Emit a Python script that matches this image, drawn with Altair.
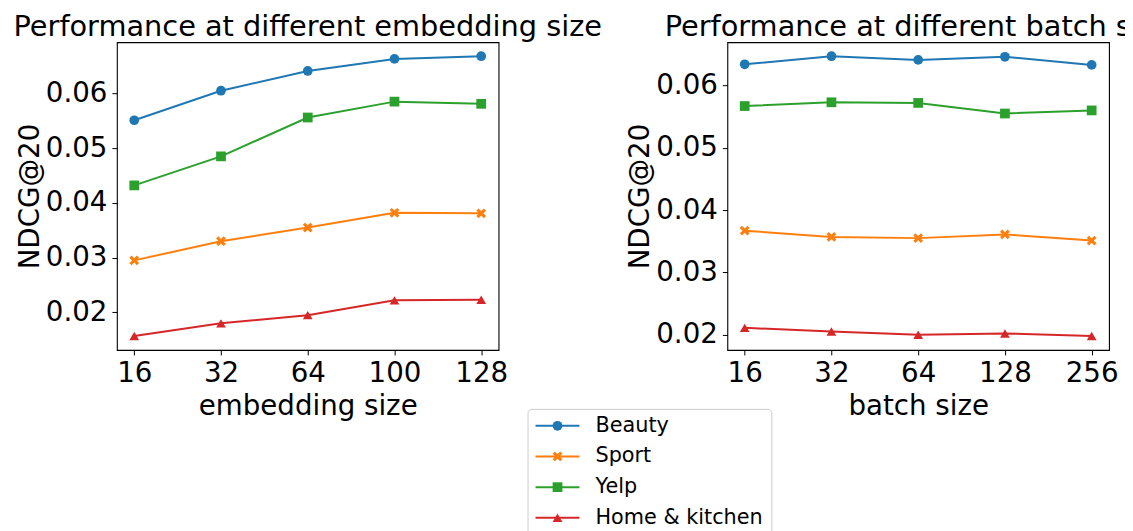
import altair as alt
import pandas as pd

# ---------------- data ----------------
series = ["Beauty", "Sport", "Yelp", "Home & kitchen"]
colors = ["#1f77b4", "#ff7f0e", "#2ca02c", "#d62728"]

emb_sizes = ["16", "32", "64", "100", "128"]
emb_beauty = [0.0551, 0.0605, 0.0641, 0.0663, 0.0668]
emb_sport = [0.0295, 0.0330, 0.0355, 0.0382, 0.0381]
emb_yelp = [0.0432, 0.0485, 0.0556, 0.0585, 0.0581]
emb_home = [0.0157, 0.0180, 0.0195, 0.0222, 0.0223]

batch_sizes = ["16", "32", "64", "128", "256"]
batch_beauty = [0.0634, 0.0647, 0.0641, 0.0646, 0.0633]
batch_sport = [0.0367, 0.0357, 0.0355, 0.0361, 0.0351]
batch_yelp = [0.0567, 0.0573, 0.0572, 0.0555, 0.0560]
batch_home = [0.0211, 0.0205, 0.0200, 0.0202, 0.0198]

y_ticks = [0.02, 0.03, 0.04, 0.05, 0.06]

left_title = "Performance at different embedding size"
right_title = "Performance at different batch size"

# ---------------- styling ----------------
FONT = "DejaVu Sans"
TFS = 28.8
FS = 27.7
LEG_FS = 20.8
X_SHAPE = ("M-0.55,-1L0,-0.45L0.55,-1L1,-0.55L0.45,0L1,0.55L0.55,1L0,0.45"
           "L-0.55,1L-1,0.55L-0.45,0L-1,-0.55Z")
shapes = ["circle", X_SHAPE, "square", "triangle-up"]
MSIZE = 95

color_scale = alt.Scale(domain=series, range=colors)
shape_scale = alt.Scale(domain=series, range=shapes)


def mpl_domain(vals):
    flat = [v for s in vals for v in s]
    lo, hi = min(flat), max(flat)
    m = (hi - lo) * 0.05
    return [lo - m, hi + m]


def panel(xs, vals, title, xtitle):
    rows = []
    for s, v in zip(series, vals):
        for i, (x, y) in enumerate(zip(xs, v)):
            rows.append({"x": x, "value": y, "series": s, "i": i})
    df = pd.DataFrame(rows)
    base = alt.Chart(df).encode(
        x=alt.X("x:O", sort=xs,
                scale=alt.Scale(type="point", padding=0.2),
                axis=alt.Axis(title=xtitle, labelAngle=0, titlePadding=5)),
        y=alt.Y("value:Q",
                scale=alt.Scale(domain=mpl_domain(vals), nice=False, zero=False),
                axis=alt.Axis(title="NDCG@20", values=y_ticks, format=".2f",
                              titlePadding=1)),
        color=alt.Color("series:N", scale=color_scale, legend=None),
        order=alt.Order("i:Q"),
    )
    lines = base.mark_line(strokeWidth=2)
    pts = base.mark_point(filled=True, size=MSIZE, opacity=1).encode(
        shape=alt.Shape("series:N", scale=shape_scale, legend=None))
    return alt.layer(lines, pts).properties(
        width=382, height=308,
        title=alt.TitleParams(title, font=FONT, fontSize=TFS, fontWeight="normal",
                              color="black", offset=0, anchor="middle", frame="group"),
    )


left = panel(emb_sizes, [emb_beauty, emb_sport, emb_yelp, emb_home],
             left_title, "embedding size")
right = panel(batch_sizes, [batch_beauty, batch_sport, batch_yelp, batch_home],
              right_title, "batch size")

# ---------------- manual legend ----------------
leg_df = pd.DataFrame({"series": series})
leg_y = alt.Y("series:N", sort=series,
              scale=alt.Scale(type="point", padding=0.552), axis=None)
leg_base = alt.Chart(leg_df).encode(
    y=leg_y, color=alt.Color("series:N", scale=color_scale, legend=None))
leg_rule = leg_base.mark_rule(strokeWidth=2).encode(x=alt.value(8), x2=alt.value(52))
leg_pt = leg_base.mark_point(filled=True, size=MSIZE, opacity=1).encode(
    x=alt.value(30), shape=alt.Shape("series:N", scale=shape_scale, legend=None))
leg_txt = alt.Chart(leg_df).mark_text(
    align="left", baseline="middle", font=FONT, fontSize=LEG_FS, color="black"
).encode(y=leg_y, x=alt.value(68), text="series:N")
legend = alt.layer(leg_rule, leg_pt, leg_txt).properties(
    width=244, height=126,
    view=alt.ViewBackground(stroke="#cccccc", strokeWidth=1, cornerRadius=4),
)

spacer = alt.Chart(leg_df).mark_point(opacity=0, size=1).properties(
    width=409, height=1, view=alt.ViewBackground(stroke="transparent"))

# "flush" rows: the legend sits a fixed distance below the top of the plots,
# overlapping the x-axis-title band as in the figure.
# negative right padding lets the page edge cut the right title, as in the figure
chart = alt.vconcat(
    alt.hconcat(left, right, spacing=22),
    alt.hconcat(spacer, legend, spacing=0),
    spacing=367, center=False, bounds="flush",
).properties(
    padding={"left": 4, "top": 4, "right": -48, "bottom": 0}
).configure(font=FONT).configure_axis(
    labelFont=FONT, labelFontSize=FS, labelColor="black",
    titleFont=FONT, titleFontSize=FS, titleFontWeight="normal", titleColor="black",
    tickSize=5, tickColor="black", tickWidth=1, labelPadding=5,
    grid=False, domain=False,
).configure_view(stroke="black", strokeWidth=1.1)

chart.save("out.html", embed_options={"renderer": "svg", "actions": False})
